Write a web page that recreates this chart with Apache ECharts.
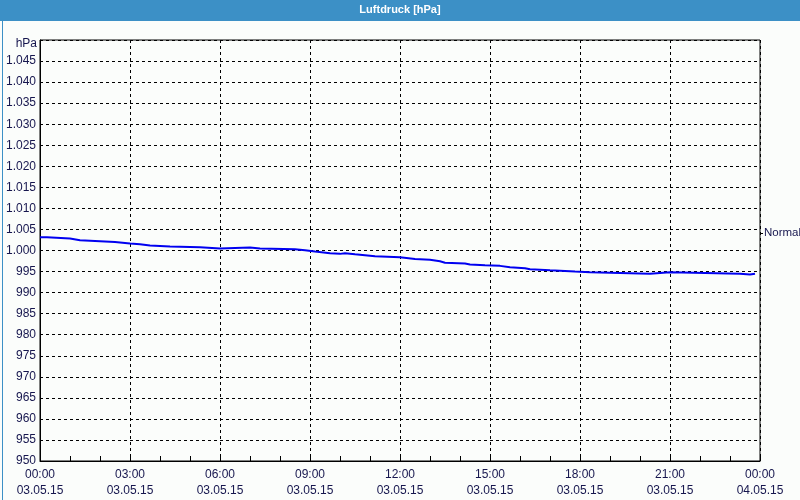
<!DOCTYPE html>
<html><head><meta charset="utf-8">
<script src="https://cdn.jsdelivr.net/npm/echarts@6/dist/echarts.min.js"></script>
<style>html,body{margin:0;padding:0;background:#fbfdfb}#c{width:800px;height:500px}</style>
</head><body><div id="c"></div>
<script>
// --- data ---
const seriesName = 'Normal';
const times = ["00:00","00:14","01:00","01:20","02:00","02:30","03:00","03:20","03:40","04:20","05:20","06:00","07:00","07:20","08:30","08:50","09:10","09:40","10:00","10:10","10:30","10:50","11:10","12:00","12:30","13:00","13:20","13:30","14:10","14:20","14:50","15:20","15:40","16:10","16:20","17:00","17:50","18:20","20:20","21:00","23:20","23:40","23:50"];
const pressure = [1003.15,1002.86,1002.45,1002.2,1002.0,1001.67,1001.5,1001.2,1000.95,1000.8,1000.48,1000.7,1000.48,1000.3,1000.07,999.76,999.36,999.2,999.36,999.1,998.9,998.65,998.4,998.0,997.8,997.45,997.1,996.9,996.67,996.5,996.35,996.0,995.8,995.55,995.3,995.0,994.85,994.5,994.85,994.5,994.3,994.5,994.5];
const xTickTimes = ["00:00","03:00","06:00","09:00","12:00","15:00","18:00","21:00","00:00"];
const xTickDates = ["03.05.15","03.05.15","03.05.15","03.05.15","03.05.15","03.05.15","03.05.15","03.05.15","04.05.15"];

function toMin(s){const p=s.split(':');return (+p[0])*60+(+p[1]);}
const data = times.map((t,i)=>[toMin(t), pressure[i]]);
const font = 'Liberation Sans';
const txt = '#16164e';

const chart = echarts.init(document.getElementById('c'), null, {renderer:'canvas'});
chart.setOption({
  backgroundColor:'#fbfdfb',
  animation:false,
  textStyle:{fontFamily:font},
  graphic:[
    {type:'rect', left:0, top:0, shape:{width:800,height:21}, style:{fill:'#3c90c6'}, z:10},
    {type:'rect', left:0, top:0, shape:{x:0.5,y:0.5,width:799,height:499}, style:{fill:null, stroke:'#3c90c6', lineWidth:1}, z:10},
    {type:'text', left:'center', top:4, style:{text:'Luftdruck [hPa]', fill:'#ffffff', font:'bold 11px "'+font+'"'}, z:11},
    {type:'text', right:763, top:38, style:{text:'hPa', fill:txt, font:'12px "'+font+'"', textAlign:'right'}, z:11},
    {type:'line', shape:{x1:760, y1:233.5, x2:763, y2:233.5}, style:{stroke:'#000', lineWidth:1}, z:11}
  ],
  legend:{
    show:true, left:759, top:227, orient:'vertical', padding:0, itemGap:0,
    icon:'rect', itemWidth:0, itemHeight:0,
    textStyle:{color:txt, fontSize:11.5, fontFamily:font},
    data:[{name:seriesName}],
    selectedMode:false
  },
  grid:{left:40, right:40, top:40, bottom:39, show:true, borderColor:'#000', borderWidth:1, backgroundColor:'transparent'},
  xAxis:{
    type:'value', min:0, max:1440, interval:180,
    axisLine:{show:true, lineStyle:{color:'#000', width:1}},
    axisTick:{show:true, inside:true, length:5, lineStyle:{color:'#000'}},
    minorTick:{show:true, splitNumber:3, length:5, lineStyle:{color:'#000'}},
    splitLine:{show:true, lineStyle:{color:'#000', type:[3,3], width:1}},
    axisLabel:{
      color:txt, fontSize:12, fontFamily:font, lineHeight:16, margin:6,
      showMinLabel:true, showMaxLabel:true,
      formatter:function(v){const i=Math.round(v/180);return xTickTimes[i]+'\n'+xTickDates[i];}
    }
  },
  yAxis:{
    type:'value', min:950, max:1050, interval:5,
    axisLine:{show:true, lineStyle:{color:'#000', width:1}},
    axisTick:{show:false},
    splitLine:{show:true, lineStyle:{color:'#000', type:[3,3], width:1}},
    axisLabel:{
      color:txt, fontSize:12, fontFamily:font, margin:4,
      formatter:function(v){
        if(v>=1050) return '';
        if(v>=1000){return '1.'+String(Math.round(v-1000)).padStart(3,'0');}
        return String(v);
      }
    }
  },
  series:[{
    name:seriesName, type:'line', step:'end', data:data, showSymbol:false, symbol:'none',
    lineStyle:{color:'#0000f0', width:2}, itemStyle:{color:'#0000f0'}, z:5
  }]
});
</script></body></html>
